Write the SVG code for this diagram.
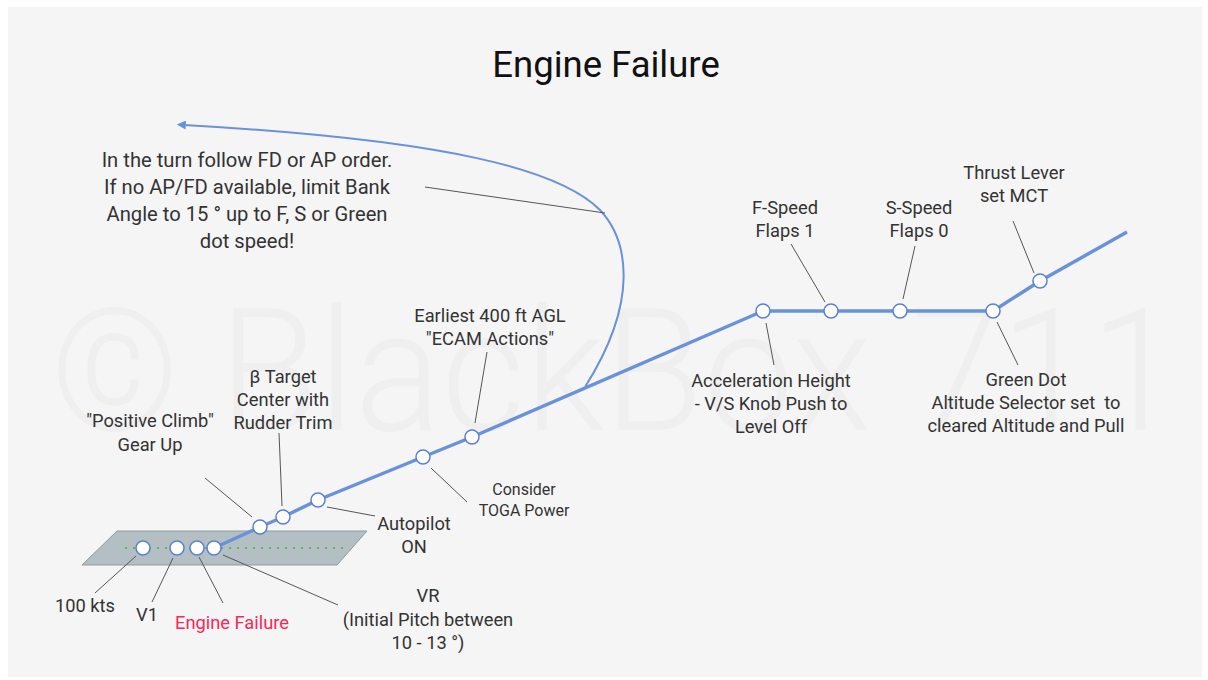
<svg xmlns="http://www.w3.org/2000/svg" width="1208" height="680" viewBox="0 0 1208 680">
<defs>
<style>
text{font-family:Roboto,"Liberation Sans",sans-serif;fill:#333;text-anchor:middle}
.t15{font-size:18.3px}
.t13{font-size:16px}
.t17{font-size:20.2px}
.lead{stroke:#555;stroke-width:1;fill:none}
.node{fill:#fff;stroke:#5a7fd4;stroke-width:1.5}
.path{stroke:#6a92d8;stroke-width:3.5;fill:none;stroke-linejoin:round}
</style>
<marker id="ah" viewBox="0 0 10 10" refX="2" refY="5" markerWidth="14" markerHeight="9" orient="auto-start-reverse" markerUnits="userSpaceOnUse">
<path d="M0,0 L10,5 L0,10 z" fill="#6a92d8"/>
</marker>
</defs>
<rect x="0" y="0" width="1208" height="680" fill="#ffffff"/>
<rect x="8" y="7" width="1194" height="670" fill="#f5f5f5"/>
<text x="615" y="430" style="font-size:170px;font-weight:300;fill:#efefef" textLength="1130" lengthAdjust="spacingAndGlyphs">© BlackBox 711</text>
<text x="606" y="77" style="font-size:36.5px;fill:#111">Engine Failure</text>

<g id="runway">
<polygon points="117,531 367,531 337,565 82,565" fill="#b3bfc3" stroke="#8c9ca1" stroke-width="1"/>
<line x1="125" y1="548" x2="345" y2="548" stroke="#5cb85c" stroke-width="2" stroke-dasharray="2,6"/>
</g>

<g id="connectors">
<polyline class="path" points="214,548 260,527 283,517 318,500 423,457 472,437 763,311 831,311 900,311 993,311 1040,281 1127,232"/>
<path d="M585,387 C640,300 628,240 600,210 C560,170 450,140 184,125" fill="none" stroke="#6a92d8" stroke-width="2" marker-end="url(#ah)"/>
<line class="lead" x1="425" y1="187" x2="605" y2="213"/>
<line class="lead" x1="136" y1="556" x2="95" y2="593"/>
<line class="lead" x1="173" y1="558" x2="152" y2="602"/>
<line class="lead" x1="199" y1="557" x2="223" y2="603"/>
<line class="lead" x1="223" y1="555" x2="338" y2="605"/>
<line class="lead" x1="205" y1="478" x2="252" y2="517"/>
<line class="lead" x1="279" y1="433" x2="282" y2="506"/>
<line class="lead" x1="327" y1="507" x2="375" y2="516"/>
<line class="lead" x1="431" y1="468" x2="467" y2="502"/>
<line class="lead" x1="487" y1="352" x2="475" y2="423"/>
<line class="lead" x1="766" y1="323" x2="774" y2="365"/>
<line class="lead" x1="791" y1="244" x2="825" y2="302"/>
<line class="lead" x1="915" y1="246" x2="903" y2="299"/>
<line class="lead" x1="1013" y1="221" x2="1034" y2="273"/>
<line class="lead" x1="997" y1="322" x2="1018" y2="365"/>
</g>

<g id="n-100kts"><circle class="node" cx="143" cy="548" r="7"/><text class="t15" x="85" y="612">100 kts</text></g>
<g id="n-v1"><circle class="node" cx="177" cy="548" r="7"/><text class="t15" x="147" y="621">V1</text></g>
<g id="n-engine-failure"><circle class="node" cx="197" cy="548" r="7"/><text class="t15" x="232" y="629" style="fill:#f5285a">Engine Failure</text></g>
<g id="n-vr"><circle class="node" cx="214" cy="548" r="7"/><text class="t15" x="428" y="602">VR<tspan x="428" dy="23.5">(Initial Pitch between</tspan><tspan x="428" dy="23.5">10 - 13 °)</tspan></text></g>
<g id="n-gear"><circle class="node" cx="260" cy="527" r="7"/><text class="t15" x="150" y="427">"Positive Climb"<tspan x="150" dy="24">Gear Up</tspan></text></g>
<g id="n-beta"><circle class="node" cx="283" cy="517" r="7"/><text class="t15" x="283" y="383">β Target<tspan x="283" dy="23">Center with</tspan><tspan x="283" dy="23">Rudder Trim</tspan></text></g>
<g id="n-autopilot"><circle class="node" cx="318" cy="500" r="7"/><text class="t15" x="414" y="530">Autopilot<tspan x="414" dy="23">ON</tspan></text></g>
<g id="n-toga"><circle class="node" cx="423" cy="457" r="7"/><text class="t13" x="524" y="495">Consider<tspan x="524" dy="21">TOGA Power</tspan></text></g>
<g id="n-400ft"><circle class="node" cx="472" cy="437" r="7"/><text class="t15" x="490" y="322">Earliest 400 ft AGL<tspan x="490" dy="23">"ECAM Actions"</tspan></text></g>
<g id="n-accel"><circle class="node" cx="763" cy="311" r="7"/><text class="t15" x="771" y="387">Acceleration Height<tspan x="771" dy="23">- V/S Knob Push to</tspan><tspan x="771" dy="23">Level Off</tspan></text></g>
<g id="n-fspeed"><circle class="node" cx="831" cy="311" r="7"/><text class="t15" x="785" y="214">F-Speed<tspan x="785" dy="23">Flaps 1</tspan></text></g>
<g id="n-sspeed"><circle class="node" cx="900" cy="311" r="7"/><text class="t15" x="919" y="214">S-Speed<tspan x="919" dy="23">Flaps 0</tspan></text></g>
<g id="n-greendot"><circle class="node" cx="993" cy="311" r="7"/><text class="t15" x="1026" y="386" xml:space="preserve">Green Dot<tspan x="1026" dy="23">Altitude Selector set  to</tspan><tspan x="1026" dy="23">cleared Altitude and Pull</tspan></text></g>
<g id="n-thrust"><circle class="node" cx="1040" cy="281" r="7"/><text class="t15" x="1014" y="179">Thrust Lever<tspan x="1014" dy="23">set MCT</tspan></text></g>
<g id="n-turn"><text class="t17" x="247" y="167">In the turn follow FD or AP order.<tspan x="247" dy="27">If no AP/FD available, limit Bank</tspan><tspan x="247" dy="27">Angle to 15 ° up to F, S or Green</tspan><tspan x="247" dy="27">dot speed!</tspan></text></g>
</svg>
